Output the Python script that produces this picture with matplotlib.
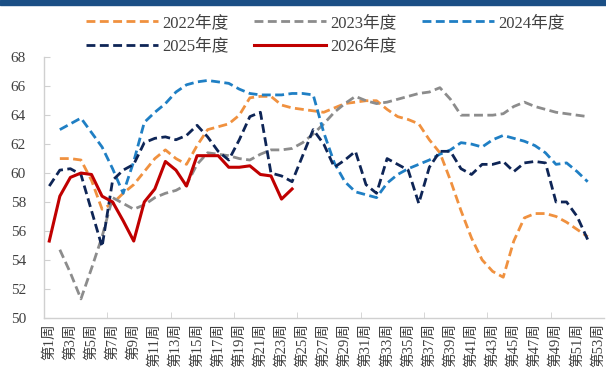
import numpy as np
import matplotlib
matplotlib.use("Agg")
import matplotlib.pyplot as plt
from matplotlib.patches import Rectangle

plt.rcParams['font.family'] = ['Liberation Serif', 'Noto Sans CJK SC', 'DejaVu Sans']

weeks = np.arange(1, 54)
week_labels = ["第%d周" % w for w in weeks]
nan = np.nan

y2022 = [nan, 61.0, 61.0, 60.9, 59.5, 57.5, 57.9, 58.6, 59.2, 60.1, 61.0,
         61.6, 61.0, 60.6, 61.9, 63.0, 63.2, 63.4, 64.0, 65.2, 65.3,
         65.3, 64.7, 64.5, 64.4, 64.3, 64.2, 64.5, 64.8, 64.9, 65.0,
         65.0, 64.4, 63.9, 63.7, 63.4, 62.3, 61.4, 59.5, 57.4, 55.5,
         54.0, 53.2, 52.8, 55.3, 56.9, 57.2, 57.2, 57.0, 56.6, 56.1,
         55.6, nan]
y2023 = [nan, 54.7, 53.1, 51.3, 53.4, 55.6, 58.3, 57.9, 57.5, 57.8, 58.3,
         58.6, 58.8, 59.2, 60.6, 61.4, 61.3, 61.2, 61.0, 60.9, 61.3,
         61.6, 61.6, 61.7, 62.1, 62.7, 63.4, 64.2, 64.8, 65.3, 65.0,
         64.8, 64.9, 65.1, 65.3, 65.5, 65.6, 65.9, 65.1, 64.0, 64.0,
         64.0, 64.0, 64.1, 64.6, 64.9, 64.6, 64.4, 64.2, 64.1, 64.0,
         63.9, nan]
y2024 = [nan, 63.0, 63.4, 63.8, 62.8, 61.8, 60.3, 58.6, 60.8, 63.5, 64.2,
         64.8, 65.6, 66.1, 66.3, 66.4, 66.3, 66.2, 65.8, 65.5, 65.4,
         65.4, 65.4, 65.5, 65.5, 65.4, 62.8, 60.7, 59.4, 58.7, 58.5,
         58.3, 59.3, 59.9, 60.3, 60.6, 60.9, 61.3, 61.6, 62.1, 62.0,
         61.8, 62.3, 62.6, 62.4, 62.2, 61.9, 61.4, 60.6, 60.7, 60.1,
         59.4, nan]
y2025 = [59.1, 60.2, 60.3, 59.9, 57.4, 54.9, 59.5, 60.2, 60.6, 62.1,
         62.4, 62.5, 62.3, 62.6, 63.3, 62.5, 61.5, 60.9, 62.3, 63.9,
         64.2, 60.0, 59.8, 59.4, 61.2, 63.0, 62.0, 60.4, 60.9, 61.5,
         59.2, 58.6, 61.0, 60.6, 60.2, 57.9, 60.4, 61.5, 61.5, 60.3,
         59.9, 60.6, 60.6, 60.8, 60.1, 60.7, 60.8, 60.7, 58.0, 58.0,
         57.0, 55.4, nan]
y2026 = [55.3, 58.4, 59.7, 60.0, 59.9, 58.4, 58.0, 56.7, 55.3, 58.0,
         58.9, 60.8, 60.2, 59.1, 61.2, 61.2, 61.2, 60.4, 60.4, 60.5,
         59.9, 59.8, 58.2, 58.9]

series = [
    ("2022年度", y2022, "#F0913F", True),
    ("2023年度", y2023, "#8C8C8C", True),
    ("2024年度", y2024, "#1F7FC4", True),
    ("2025年度", y2025, "#0E2556", True),
    ("2026年度", y2026, "#C00000", False),
]

fig = plt.figure(figsize=(6.06, 3.78), dpi=100)
ax = fig.add_axes([0.0726, 0.1595, 0.9233, 0.6889])

lines = {}
for name, vals, color, dashed in series:
    x = weeks[:len(vals)]
    if dashed:
        ln, = ax.plot(x, vals, color=color, lw=2.0, dashes=(3.2, 1.6), label=name)
    else:
        ln, = ax.plot(x, vals, color=color, lw=2.2, label=name)
    lines[name] = ln

ax.set_xlim(0.5, 53.5)
ax.set_ylim(50, 68)
ax.set_yticks(np.arange(50, 69, 2))

# labels on odd weeks, tick marks every 6 weeks between categories
ax.set_xticks(weeks[::2])
ax.set_xticklabels(week_labels[::2], rotation=90, va='top', ha='center')
ax.set_xticks(np.arange(6.5, 53, 6), minor=True)
ax.tick_params(axis='x', which='major', length=0, pad=4, labelsize=10.5, colors='#404040')
ax.tick_params(axis='x', which='minor', length=4, direction='in', color='#D0D0D0')
ax.tick_params(axis='y', length=4, direction='in', color='#D0D0D0', pad=13,
               labelsize=11, labelcolor='#404040')

for s in ['top', 'right']:
    ax.spines[s].set_visible(False)
for s in ['left', 'bottom']:
    ax.spines[s].set_color('#D0D0D0')
    ax.spines[s].set_linewidth(1.0)

# legend filled row by row: 2022 2023 2024 / 2025 2026
order = ["2022年度", "2025年度", "2023年度", "2026年度", "2024年度"]
leg = fig.legend([lines[n] for n in order], order, loc='upper center',
                 bbox_to_anchor=(0.537, 1.0), ncol=3, frameon=False,
                 fontsize=12, handlelength=4.3, handletextpad=0.3,
                 columnspacing=1.5, labelspacing=0.45)
for t in leg.get_texts():
    t.set_color('#404040')

# dark band along the top edge
fig.patches.append(Rectangle((0, 0.986), 1, 0.014, transform=fig.transFigure,
                             color='#1B4F85', zorder=5))

fig.savefig("out.png", dpi=100)
